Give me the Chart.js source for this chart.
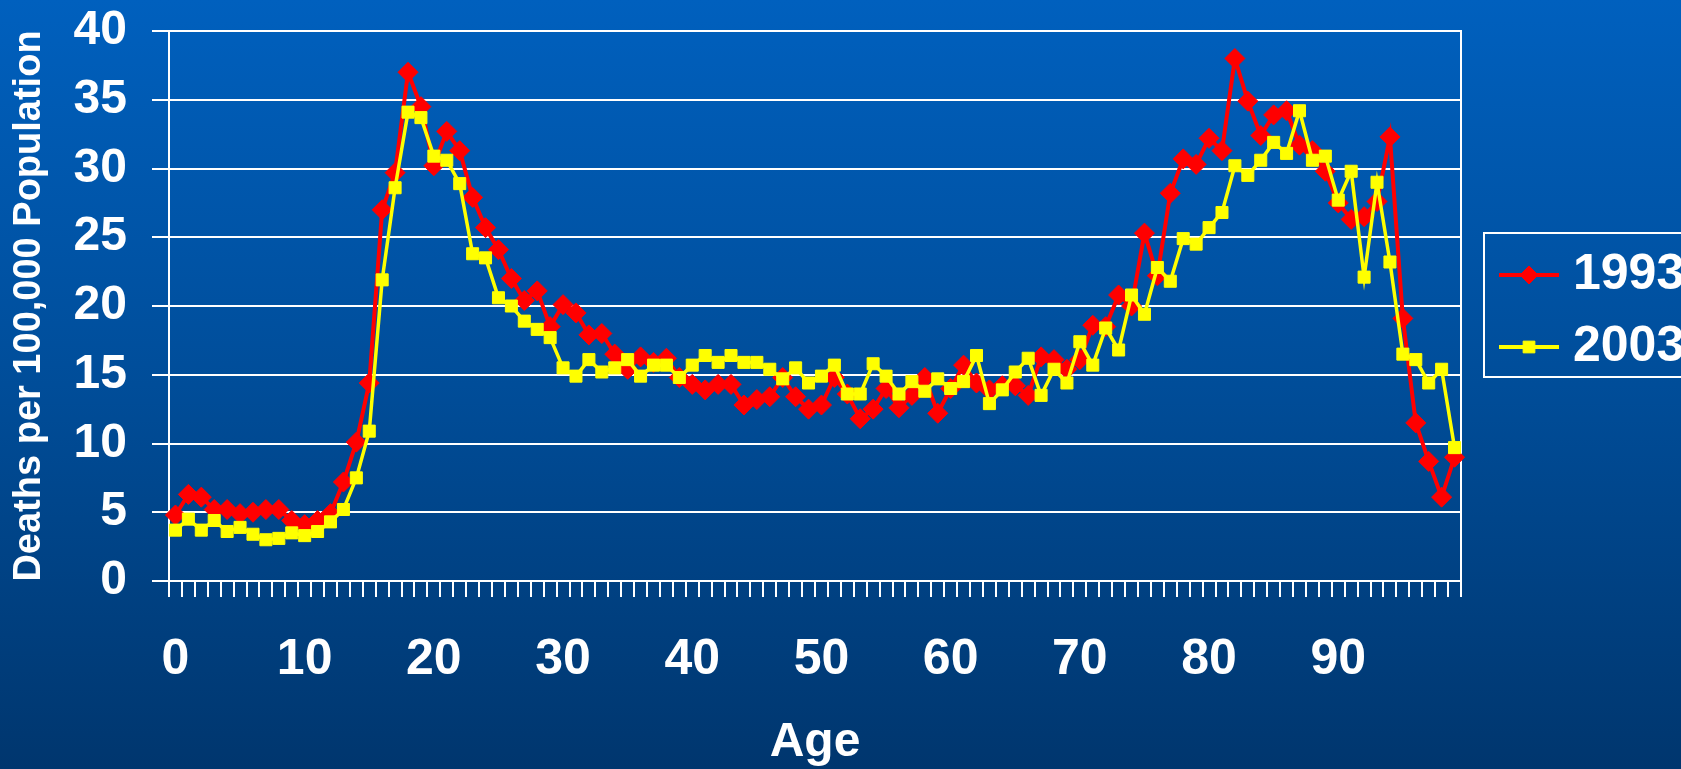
<!DOCTYPE html>
<html>
<head>
<meta charset="utf-8">
<script src="https://cdn.jsdelivr.net/npm/chart.js@4.4.1/dist/chart.umd.min.js"></script>
<style>
html, body { margin: 0; padding: 0; overflow: hidden; }
body { width: 1681px; height: 769px; background: linear-gradient(to bottom, #0060BE 0%, #004D99 50%, #00366E 100%); }
#c { display: block; }
</style>
</head>
<body>
<canvas id="c" width="1681" height="769"></canvas>
<script>
// ---- Data ----
const ages = [0,1,2,3,4,5,6,7,8,9,10,11,12,13,14,15,16,17,18,19,20,21,22,23,24,25,26,27,28,29,30,31,32,33,34,35,36,37,38,39,40,41,42,43,44,45,46,47,48,49,50,51,52,53,54,55,56,57,58,59,60,61,62,63,64,65,66,67,68,69,70,71,72,73,74,75,76,77,78,79,80,81,82,83,84,85,86,87,88,89,90,91,92,93,94,95,96,97,98,99];

const deaths1993 = [4.8,6.3,6.1,5.2,5.2,4.9,5.0,5.2,5.2,4.4,
  4.1,4.4,4.9,7.2,10.1,14.4,27.0,29.7,37.0,34.5,
  30.2,32.7,31.3,27.9,25.7,24.1,22.0,20.4,21.1,18.5,
  20.1,19.5,17.9,18.0,16.5,15.4,16.3,15.9,16.2,14.8,
  14.3,13.9,14.3,14.3,12.8,13.2,13.4,14.8,13.4,12.5,
  12.8,14.8,13.6,11.8,12.5,14.0,12.6,13.5,14.8,12.2,
  14.0,15.7,14.4,13.9,14.2,14.2,13.5,16.3,16.1,15.4,
  16.1,18.6,18.5,20.8,20.0,25.3,22.2,28.2,30.7,30.3,
  32.2,31.3,38.0,34.9,32.4,33.9,34.2,31.7,31.3,29.8,
  27.5,26.3,26.5,27.6,32.3,19.1,11.5,8.7,6.1,9.0];

const deaths2003 = [3.7,4.5,3.7,4.4,3.6,3.9,3.4,3.0,3.1,3.5,
  3.3,3.6,4.3,5.2,7.5,10.9,21.9,28.6,34.1,33.7,
  30.9,30.6,28.9,23.8,23.5,20.6,20.0,18.9,18.3,17.7,
  15.5,14.9,16.1,15.2,15.5,16.1,14.9,15.7,15.7,14.8,
  15.7,16.4,15.9,16.4,15.9,15.9,15.4,14.7,15.5,14.4,
  14.9,15.7,13.6,13.6,15.8,14.9,13.6,14.5,13.8,14.7,
  14.0,14.5,16.4,12.9,13.9,15.2,16.2,13.5,15.4,14.4,
  17.4,15.7,18.4,16.8,20.8,19.4,22.8,21.8,24.9,24.5,
  25.7,26.8,30.2,29.5,30.6,31.9,31.1,34.2,30.6,30.9,
  27.7,29.8,22.1,29.0,23.2,16.5,16.1,14.4,15.4,9.7];

const xTickLabels = [0,10,20,30,40,50,60,70,80,90];
const seriesNames = ['1993','2003'];
const yAxisTitle = 'Deaths per 100,000 Population';
const xAxisTitle = 'Age';

// ---- Styling ----
const FONT = '"Liberation Sans", Arial, Helvetica, sans-serif';
const WHITE = '#ffffff';

const boxLegend = {
  id: 'boxLegend',
  afterDraw(chart) {
    const ctx = chart.ctx;
    const area = chart.chartArea;
    const boxX = area.right + 23, boxY = 233, boxW = 260, boxH = 144;
    ctx.save();
    ctx.strokeStyle = WHITE;
    ctx.lineWidth = 2;
    ctx.strokeRect(boxX, boxY, boxW, boxH);
    chart.data.datasets.forEach((ds, k) => {
      const y = 275 + k * 72;
      const x0 = boxX + 15, x1 = boxX + 75;
      ctx.strokeStyle = ds.borderColor;
      ctx.lineWidth = 4;
      ctx.beginPath(); ctx.moveTo(x0, y); ctx.lineTo(x1, y); ctx.stroke();
      ctx.fillStyle = ds.pointBackgroundColor;
      ctx.strokeStyle = ds.pointBorderColor;
      ctx.lineWidth = 1;
      Chart.helpers.drawPoint(ctx, {pointStyle: ds.pointStyle, rotation: 0, borderWidth: 1, radius: ds.legendRadius}, (x0 + x1) / 2, y);
      ctx.fillStyle = WHITE;
      ctx.font = 'bold 50px ' + FONT;
      ctx.textBaseline = 'middle';
      ctx.textAlign = 'left';
      ctx.fillText(ds.label, boxX + 89, y);
    });
    ctx.restore();
  }
};

new Chart(document.getElementById('c'), {
  type: 'line',
  data: {
    labels: ages,
    datasets: [
      {
        label: seriesNames[0],
        data: deaths1993,
        borderColor: '#FF0000',
        backgroundColor: '#FF0000',
        borderWidth: 4,
        pointStyle: 'rectRot',
        pointRadius: 10,
        legendRadius: 9,
        pointBackgroundColor: '#FF0000',
        pointBorderColor: '#FF0000',
        pointBorderWidth: 1,
        tension: 0,
        order: 1
      },
      {
        label: seriesNames[1],
        data: deaths2003,
        borderColor: '#FFFF00',
        backgroundColor: '#FFFF00',
        borderWidth: 3.5,
        pointStyle: 'rect',
        pointRadius: 8.5,
        legendRadius: 8.3,
        pointBackgroundColor: '#FFFF00',
        pointBorderColor: '#FFFF00',
        pointBorderWidth: 1,
        tension: 0,
        order: 0
      }
    ]
  },
  options: {
    responsive: false,
    devicePixelRatio: 1,
    animation: false,
    layout: { padding: { top: 31, right: 220, bottom: 0, left: 0 } },
    plugins: { legend: { display: false }, tooltip: { enabled: false } },
    scales: {
      x: {
        type: 'category',
        offset: true,
        grid: { display: true, drawOnChartArea: false, drawTicks: true, tickLength: 16, color: WHITE, lineWidth: 2, offset: true },
        border: { display: true, color: WHITE, width: 2 },
        ticks: {
          autoSkip: false, maxRotation: 0, minRotation: 0, padding: 33,
          color: WHITE, font: { family: FONT, size: 50, weight: 'bold' },
          callback: function(v, i) { return xTickLabels.includes(ages[i]) ? String(ages[i]) : ''; }
        },
        title: { display: true, text: xAxisTitle, color: WHITE, font: { family: FONT, size: 48, weight: 'bold', lineHeight: 1 }, padding: { top: 0, bottom: 2 } },
        afterFit: s => { s.height = 188; s.paddingLeft = 0; s.paddingRight = 0; }
      },
      y: {
        min: 0, max: 40,
        grid: { color: WHITE, lineWidth: 2, drawTicks: true, tickLength: 17 },
        border: { display: true, color: WHITE, width: 2 },
        ticks: { stepSize: 5, padding: 25, color: WHITE, font: { family: FONT, size: 48, weight: 'bold' } },
        title: { display: true, text: yAxisTitle, color: WHITE, font: { family: FONT, size: 38, weight: 'bold' }, padding: { top: 7, bottom: 0 } },
        afterFit: s => { s.width = 169; s.paddingTop = 0; s.paddingBottom = 0; }
      },
      y2: {
        position: 'right',
        min: 0, max: 40,
        grid: { display: false },
        ticks: { display: false },
        border: { display: true, color: WHITE, width: 2 },
        afterFit: s => { s.width = 0; s.paddingTop = 0; s.paddingBottom = 0; }
      }
    }
  },
  plugins: [boxLegend]
});
</script>
</body>
</html>
